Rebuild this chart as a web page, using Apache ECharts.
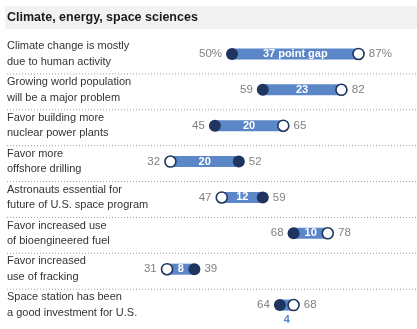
<!DOCTYPE html>
<html>
<head>
<meta charset="utf-8">
<script src="https://cdn.jsdelivr.net/npm/echarts@6/dist/echarts.min.js"></script>
<style>
  html, body { margin: 0; padding: 0; background: #fff; }
  #chart { width: 417px; height: 329px; }
</style>
</head>
<body>
<div id="chart"></div>
<script>
// Section heading
const sectionTitle = 'Climate, energy, space sciences';

// Survey items (top to bottom)
const items = [
  'Climate change is mostly\ndue to human activity',
  'Growing world population\nwill be a major problem',
  'Favor building more\nnuclear power plants',
  'Favor more\noffshore drilling',
  'Astronauts essential for\nfuture of U.S. space program',
  'Favor increased use\nof bioengineered fuel',
  'Favor increased\nuse of fracking',
  'Space station has been\na good investment for U.S.'
];

// Percent agreeing: filled dots and open dots
const filledValues = [50, 59, 45, 52, 59, 68, 39, 64];
const openValues   = [87, 82, 65, 32, 47, 78, 31, 68];

const NAVY = '#1f3560';
const BLUE = '#5b87c8';
const GRAY = '#808080';
const FONT = '"Liberation Sans", Arial, sans-serif';

const chart = echarts.init(document.getElementById('chart'), null, { renderer: 'canvas' });

// Range rows: [low, high, rowIndex]
const rangeData = items.map((_, i) => [
  Math.min(filledValues[i], openValues[i]),
  Math.max(filledValues[i], openValues[i]),
  i
]);

function renderRange(params, api) {
  const lo = api.value(0), hi = api.value(1), row = api.value(2);
  const p0 = api.coord([lo, row]);
  const p1 = api.coord([hi, row]);
  const cy = p0[1];
  const gap = hi - lo;
  const children = [];
  const W = api.getWidth();
  if (row < items.length - 1) {
    children.push({
      type: 'line',
      shape: { x1: 7, y1: cy + 20, x2: W, y2: cy + 20 },
      style: { stroke: '#a0a0a0', lineWidth: 1, lineDash: [1, 2] },
      silent: true
    });
  }
  children.push({
    type: 'rect',
    shape: { x: p0[0], y: cy - 5.5, width: p1[0] - p0[0], height: 11 },
    style: { fill: BLUE }
  });
  const text = row === 0 ? gap + ' point gap' : String(gap);
  const inside = gap >= 6;
  children.push({
    type: 'text',
    style: {
      text: text, x: (p0[0] + p1[0]) / 2, y: inside ? cy : cy + 15,
      align: 'center', verticalAlign: 'middle',
      fill: inside ? '#fff' : BLUE, font: 'bold 11px ' + FONT
    }
  });
  return { type: 'group', children: children };
}

function dotData(values, others) {
  return values.map((v, i) => ({
    value: [v, i],
    label: { position: v < others[i] ? 'left' : 'right' }
  }));
}

const valueLabel = {
  show: true,
  distance: 4,
  color: GRAY,
  fontSize: 11.5,
  fontFamily: FONT,
  formatter: p => p.data.value[1] === 0 ? p.data.value[0] + '%' : String(p.data.value[0])
};

chart.setOption({
  animation: false,
  backgroundColor: '#fff',
  graphic: [
    { type: 'rect', left: 5, top: 6, shape: { width: 412, height: 23 }, style: { fill: '#f2f2f2' }, z: 0 },
    { type: 'text', left: 7, top: 11, style: { text: sectionTitle, font: 'bold 12.5px ' + FONT, fill: '#1a1a1a' }, z: 1 }
  ],
  grid: { left: 61, right: 14, top: 36, bottom: 6 },
  xAxis: { type: 'value', min: 0, max: 100, show: false },
  yAxis: {
    type: 'category',
    data: items,
    inverse: true,
    axisLine: { show: false },
    axisTick: { show: false },
    splitLine: { show: false },
    axisLabel: {
      align: 'left',
      margin: 54,
      color: '#333',
      fontSize: 11,
      fontFamily: FONT,
      lineHeight: 15.5,
      padding: [5, 0, 0, 0]
    }
  },
  series: [
    {
      type: 'custom',
      data: rangeData,
      encode: { x: [0, 1], y: 2 },
      renderItem: renderRange,
      z: 1
    },
    {
      type: 'scatter',
      data: dotData(openValues, filledValues),
      symbolSize: 11,
      itemStyle: { color: '#fff', borderColor: NAVY, borderWidth: 1.6, opacity: 1 },
      label: valueLabel,
      z: 3
    },
    {
      type: 'scatter',
      data: dotData(filledValues, openValues),
      symbolSize: 12,
      itemStyle: { color: NAVY, opacity: 1 },
      label: valueLabel,
      z: 4
    }
  ]
});
</script>
</body>
</html>
